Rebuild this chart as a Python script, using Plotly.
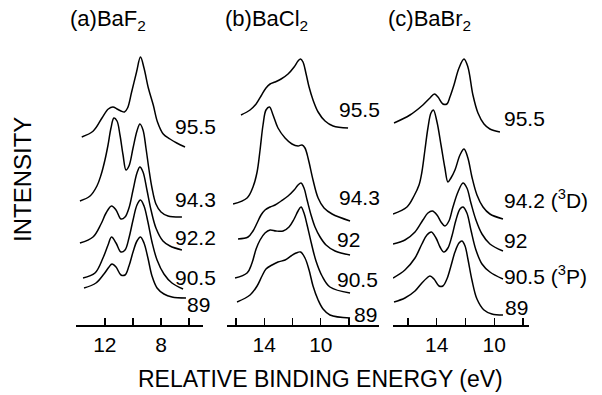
import plotly.graph_objects as go

W, H = 602, 395

# ---------------- data: energy (eV) and intensity (arb.) ----------------
# (a) BaF2
a955_E = [13.64, 12.82, 12.20, 11.75, 11.42, 11.13, 10.85, 10.60, 10.38, 10.09, 9.74, 9.46, 9.21, 8.90, 8.55, 8.25, 7.84, 7.36, 6.88, 6.29]
a955_I = [188, 194, 207, 216, 218, 216, 214, 213, 217, 233, 253, 268, 257, 237, 220, 203, 191, 186, 182, 178]
a943_E = [13.77, 13.05, 12.56, 12.27, 11.99, 11.77, 11.56, 11.35, 11.13, 10.92, 10.70, 10.49, 10.28, 9.99, 9.71, 9.50, 9.28, 9.07, 8.85, 8.64, 8.36, 8.00, 7.50, 6.51]
a943_I = [124, 129, 139, 150, 165, 180, 197, 207, 204, 190, 170, 155, 159, 177, 194, 201, 195, 177, 155, 137, 121, 113, 109, 108]
a922_E = [13.77, 12.84, 12.27, 11.91, 11.52, 11.20, 10.85, 10.56, 10.28, 9.99, 9.71, 9.50, 9.28, 9.00, 8.71, 8.36, 7.86, 7.36, 6.51]
a922_I = [82, 88, 101, 112, 119, 115, 106, 108, 117, 135, 152, 158, 153, 135, 115, 97, 84, 79, 75]
a905_E = [13.55, 12.70, 12.13, 11.77, 11.52, 11.20, 10.85, 10.56, 10.28, 9.99, 9.71, 9.46, 9.21, 8.93, 8.64, 8.28, 7.79, 7.22, 6.43]
a905_I = [47, 52, 67, 80, 88, 82, 73, 75, 87, 105, 120, 125, 119, 103, 83, 65, 51, 42, 36]
a89_E = [13.48, 12.63, 12.06, 11.70, 11.49, 11.20, 10.85, 10.56, 10.28, 9.99, 9.71, 9.46, 9.21, 8.93, 8.64, 8.28, 7.79, 7.22, 6.22]
a89_I = [37, 42, 51, 58, 61, 58, 50, 50, 59, 73, 84, 88, 82, 67, 49, 37, 31, 28, 27]

# (b) BaCl2
b955_E = [15.65, 15.01, 14.58, 14.23, 13.88, 13.59, 13.24, 12.81, 12.32, 11.89, 11.61, 11.43, 11.26, 11.04, 10.83, 10.55, 10.19, 9.70, 9.13, 8.07]
b955_I = [210, 215, 221, 229, 237, 241, 243, 246, 251, 258, 264, 266, 263, 251, 238, 225, 213, 204, 199, 197]
b943_E = [16.21, 15.22, 14.80, 14.51, 14.30, 14.09, 13.88, 13.63, 13.38, 13.03, 12.53, 12.04, 11.61, 11.33, 11.12, 10.87, 10.55, 10.19, 9.77, 9.20, 7.93]
b943_I = [121, 127, 138, 153, 175, 200, 215, 218, 210, 197, 187, 181, 179, 180, 177, 165, 145, 127, 117, 111, 104]
b92_E = [15.86, 15.15, 14.80, 14.51, 14.23, 13.95, 13.59, 13.24, 12.81, 12.32, 11.89, 11.61, 11.40, 11.19, 10.97, 10.69, 10.41, 10.05, 9.63, 8.99, 7.93]
b92_I = [86, 88, 94, 102, 110, 115, 118, 120, 124, 129, 135, 140, 142, 137, 125, 110, 98, 88, 80, 74, 70]
b905_E = [16.07, 15.22, 14.87, 14.58, 14.30, 13.95, 13.59, 13.17, 12.67, 12.25, 11.89, 11.61, 11.40, 11.19, 10.97, 10.69, 10.34, 9.91, 9.35, 7.93]
b905_I = [47, 52, 62, 76, 85, 92, 95, 94, 94, 98, 106, 114, 118, 112, 100, 83, 64, 49, 38, 32]
b89_E = [15.93, 15.01, 14.51, 14.16, 13.88, 13.45, 13.03, 12.53, 12.11, 11.75, 11.43, 11.12, 10.83, 10.55, 10.19, 9.84, 9.35, 7.93]
b89_I = [23, 30, 39, 49, 56, 60, 63, 65, 69, 72, 73, 67, 55, 39, 25, 16, 10, 7]

# (c) BaBr2
c955_E = [16.97, 15.86, 14.96, 14.47, 14.16, 13.91, 13.57, 13.29, 13.08, 12.80, 12.45, 12.10, 11.83, 11.48, 11.13, 10.71, 10.30, 9.60]
c955_I = [202, 210, 220, 227, 231, 228, 221, 221, 228, 240, 257, 266, 258, 230, 212, 201, 196, 193]
c942_E = [17.04, 16.07, 15.58, 15.23, 15.03, 14.82, 14.61, 14.40, 14.23, 13.98, 13.70, 13.43, 13.22, 13.01, 12.73, 12.38, 12.10, 11.83, 11.55, 11.20, 10.78, 10.30, 9.39]
c942_I = [111, 118, 129, 140, 153, 175, 197, 212, 215, 203, 180, 157, 143, 147, 155, 170, 176, 167, 148, 130, 118, 111, 106]
c92_E = [17.04, 16.21, 15.51, 14.96, 14.61, 14.30, 13.98, 13.70, 13.43, 13.15, 12.87, 12.52, 12.17, 11.90, 11.62, 11.27, 10.85, 10.30, 9.39]
c92_I = [81, 85, 93, 105, 112, 114, 110, 103, 99, 104, 118, 133, 142, 137, 122, 105, 91, 81, 74]
c905_E = [17.04, 16.21, 15.51, 15.03, 14.68, 14.37, 14.05, 13.77, 13.50, 13.22, 12.94, 12.66, 12.38, 12.17, 11.90, 11.62, 11.27, 10.85, 10.30, 9.39]
c905_I = [47, 55, 67, 81, 90, 93, 87, 78, 73, 77, 89, 105, 116, 118, 112, 95, 75, 61, 53, 46]
c89_E = [16.97, 16.21, 15.51, 15.03, 14.68, 14.47, 14.19, 13.84, 13.57, 13.29, 13.01, 12.73, 12.45, 12.24, 12.03, 11.83, 11.55, 11.20, 10.71, 10.16, 9.39]
c89_I = [23, 27, 34, 42, 47, 49, 46, 39, 39, 46, 59, 73, 82, 84, 79, 66, 45, 26, 15, 11, 10]

panel_titles = ["(a)BaF<sub>2</sub>", "(b)BaCl<sub>2</sub>", "(c)BaBr<sub>2</sub>"]
a_labels = ["95.5", "94.3", "92.2", "90.5", "89"]
b_labels = ["95.5", "94.3", "92", "90.5", "89"]
c_labels = ["95.5", "94.2 (<sup>3</sup>D)", "92", "90.5 (<sup>3</sup>P)", "89"]
a_ticks = [14, 12, 10, 8, 6]
a_ticktext = ["", "12", "", "8", ""]
bc_ticks = [16, 14, 12, 10, 8]
bc_ticktext = ["", "14", "", "10", ""]
x_title = "RELATIVE BINDING ENERGY (eV)"
y_title = "INTENSITY"

# ---------------- figure ----------------
FONT = "Liberation Sans, Arial, Helvetica, sans-serif"
fig = go.Figure()

panels = [
    ("x", "y", [(a955_E, a955_I), (a943_E, a943_I), (a922_E, a922_I), (a905_E, a905_I), (a89_E, a89_I)]),
    ("x2", "y2", [(b955_E, b955_I), (b943_E, b943_I), (b92_E, b92_I), (b905_E, b905_I), (b89_E, b89_I)]),
    ("x3", "y3", [(c955_E, c955_I), (c942_E, c942_I), (c92_E, c92_I), (c905_E, c905_I), (c89_E, c89_I)]),
]
for xa, ya, curves in panels:
    for E, I in curves:
        fig.add_trace(go.Scatter(x=E, y=I, xaxis=xa, yaxis=ya, mode="lines",
                                 line=dict(color="black", width=1.5, shape="spline", smoothing=1.0),
                                 showlegend=False, hoverinfo="skip"))


def px(x):
    return x / W


def py(y):
    return 1 - y / H


ydom = [py(325), py(25)]
common_x = dict(showline=True, linecolor="black", linewidth=1.5, ticks="inside", ticklen=7,
                tickwidth=1.4, tickcolor="black", showgrid=False, zeroline=False,
                tickfont=dict(family=FONT, size=21, color="black"))
common_y = dict(domain=ydom, range=[0, 300], visible=False, fixedrange=True)

fig.update_layout(
    width=W, height=H, margin=dict(l=0, r=0, t=0, b=0),
    paper_bgcolor="white", plot_bgcolor="white",
    xaxis=dict(domain=[px(76), px(203)], range=[14.05, 5.01], anchor="y",
               tickvals=a_ticks, ticktext=a_ticktext, **common_x),
    xaxis2=dict(domain=[px(227), px(379)], range=[16.64, 5.88], anchor="y2",
                tickvals=bc_ticks, ticktext=bc_ticktext, **common_x),
    xaxis3=dict(domain=[px(393), px(529)], range=[17.04, 7.58], anchor="y3",
                tickvals=bc_ticks, ticktext=bc_ticktext, **common_x),
    yaxis=dict(anchor="x", **common_y),
    yaxis2=dict(anchor="x2", **common_y),
    yaxis3=dict(anchor="x3", **common_y),
)

ann = []
def txt(text, x, y, size=21, xanchor="left", yanchor="middle", angle=0):
    ann.append(dict(text=text, x=px(x), y=py(y), xref="paper", yref="paper",
                    xanchor=xanchor, yanchor=yanchor, showarrow=False, textangle=angle,
                    borderpad=0, font=dict(family=FONT, size=size, color="black")))

# panel titles
for t, x in zip(panel_titles, [69, 224, 387]):
    txt(t, x, 20, size=22)

# curve labels
for lab, y, x in zip(a_labels, [127, 199, 237, 277, 304], [174, 174, 174, 174, 186]):
    txt(lab, x, y)
for lab, y, x in zip(b_labels, [110, 197, 239, 279, 314], [338, 338, 336, 336, 353]):
    txt(lab, x, y)
for lab, y, x in zip(c_labels, [118, 199, 240, 275, 307], [503, 503, 503, 503, 504]):
    txt(lab, x, y)

txt(x_title, 320, 379, size=23, xanchor="center")
txt(y_title, 22, 180, size=24, xanchor="center", angle=-90)

fig.update_layout(annotations=ann)
fig.write_html("out.html", config={"displayModeBar": False, "staticPlot": True},
               post_script="document.body.style.margin='0';document.body.style.padding='0';")
